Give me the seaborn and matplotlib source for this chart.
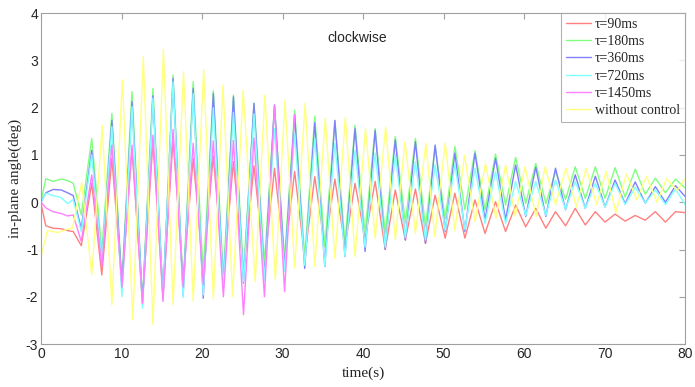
import matplotlib
matplotlib.use("Agg")
import matplotlib.pyplot as plt
import seaborn as sns
import pandas as pd

# extremum times shared by the controlled runs (s)
t_ctrl = [0.0, 0.6, 1.5, 2.5, 3.3, 4.0, 5.0,
          6.3, 7.55, 8.8, 10.05, 11.3, 12.6, 13.9, 15.15, 16.4, 17.65,
          18.9, 20.15, 21.4, 22.65, 23.9, 25.15, 26.45, 27.75, 29.0, 30.25,
          31.5, 32.75, 34.0, 35.25, 36.5, 37.75, 39.0, 40.25, 41.5, 42.75,
          44.0, 45.25, 46.5, 47.75, 48.95, 50.2, 51.4, 52.65, 53.9, 55.15,
          56.45, 57.7, 58.95, 60.2, 61.45, 62.7, 63.9, 65.15, 66.35, 67.6,
          68.85, 70.05, 71.3, 72.55, 73.8, 75.05, 76.3, 77.55, 78.8, 80.0]

tau90 = [-0.03, -0.5, -0.55, -0.56, -0.6, -0.62, -0.92,
         0.4, -1.54, 0.93, -1.72, 1.14, -2.1, 1.28, -1.98, 1.33, -1.61,
         0.93, -1.43, 0.98, -1.53, 0.86, -1.5, 0.77, -1.36, 0.72, -1.2,
         0.65, -1.16, 0.54, -0.94, 0.49, -0.94, 0.4, -0.76, 0.44, -1.0,
         0.26, -0.8, 0.28, -0.87, 0.15, -0.76, 0.19, -0.76, 0.05, -0.66,
         0.01, -0.62, -0.06, -0.52, -0.13, -0.55, -0.2, -0.5, -0.13, -0.48,
         -0.2, -0.42, -0.25, -0.4, -0.28, -0.38, -0.2, -0.42, -0.2, -0.22]

tau180 = [0.02, 0.5, 0.44, 0.49, 0.46, 0.4, -0.27,
          1.35, -1.04, 1.88, -1.68, 2.34, -2.07, 2.41, -1.97, 2.69, -1.78,
          2.55, -1.54, 2.36, -1.55, 2.27, -1.5, 2.1, -1.29, 2.03, -1.2,
          1.95, -1.16, 1.82, -0.94, 1.73, -0.85, 1.63, -0.66, 1.56, -0.66,
          1.39, -0.44, 1.35, -0.52, 1.18, -0.35, 1.18, -0.16, 1.09, -0.16,
          1.02, -0.06, 0.95, -0.03, 0.82, -0.03, 0.65, 0.06, 0.75, 0.08,
          0.75, 0.08, 0.73, 0.11, 0.7, 0.17, 0.51, 0.2, 0.49, 0.3]

tau360 = [0.0, 0.2, 0.27, 0.26, 0.2, 0.14, -0.56,
          1.1, -1.29, 1.73, -1.78, 2.13, -2.14, 2.25, -2.03, 2.62, -1.97,
          2.41, -2.03, 2.3, -1.82, 2.23, -1.71, 2.09, -1.61, 2.06, -1.4,
          1.85, -1.4, 1.68, -1.36, 1.73, -1.15, 1.56, -1.04, 1.52, -1.0,
          1.32, -0.8, 1.28, -0.87, 1.21, -0.62, 1.04, -0.62, 1.04, -0.37,
          0.93, -0.37, 0.79, -0.3, 0.74, -0.3, 0.72, -0.16, 0.58, -0.13,
          0.55, -0.1, 0.47, -0.03, 0.43, -0.02, 0.33, 0.0, 0.35, 0.12]

tau720 = [0.0, 0.19, 0.14, 0.1, -0.03, 0.06, -0.62,
          1.0, -1.22, 1.6, -2.0, 2.02, -2.24, 2.2, -2.06, 2.55, -2.02,
          2.3, -1.96, 2.0, -1.8, 1.9, -1.68, 1.87, -1.65, 1.56, -1.46,
          1.45, -1.33, 1.35, -1.35, 1.25, -1.15, 1.1, -0.95, 1.04, -0.95,
          1.0, -0.75, 0.86, -0.8, 0.8, -0.6, 0.8, -0.58, 0.72, -0.45,
          0.65, -0.45, 0.44, -0.28, 0.44, -0.28, 0.47, -0.15, 0.44, -0.13,
          0.4, -0.1, 0.4, -0.05, 0.32, -0.02, 0.26, -0.05, 0.28, -0.05]

# tau=1450ms is only distinguishable up to ~31 s, then sits on tau=360ms
t_1450 = [0.0, 0.6, 1.5, 2.5, 3.3, 4.0, 5.0,
          6.3, 7.55, 8.8, 10.05, 11.3, 12.6, 13.9, 15.15, 16.4, 17.65,
          18.9, 20.15, 21.4, 22.65, 23.9, 25.15, 26.45, 27.75, 29.0, 30.25, 31.5]
tau1450 = [0.0, -0.12, -0.2, -0.24, -0.29, -0.27, -0.83,
           0.58, -1.36, 1.21, -1.8, 1.21, -2.14, 1.42, -2.1, 1.54, -1.8,
           1.25, -1.75, 1.3, -2.0, 1.31, -2.38, 1.36, -2.0, 2.05, -1.89, 1.85]

t_free = [0.0, 0.8, 2.1, 3.1, 3.9, 5.05,
          6.3, 7.6, 8.8, 10.1, 11.4, 12.7, 13.9, 15.2, 16.4, 17.7, 18.9,
          20.2, 21.4, 22.6, 23.8, 25.1, 26.6, 27.8, 29.1, 30.3, 31.5, 32.8,
          34.0, 35.3, 36.5, 37.8, 39.0, 40.3, 41.5, 42.8, 44.0, 45.2, 46.5,
          47.8, 48.9, 50.2, 51.4, 52.6, 53.9, 55.2, 56.5, 57.7, 58.9, 60.1,
          61.5, 62.6, 63.9, 65.2, 66.5, 67.7, 69.0, 70.2, 71.4, 72.7, 74.0,
          75.2, 76.5, 77.7, 79.0, 80.0]
free = [-1.15, -0.6, -0.64, -0.58, -0.55, 0.42,
        -1.54, 1.63, -2.17, 2.59, -2.49, 3.08, -2.59, 3.23, -2.17, 2.76, -2.1,
        2.81, -2.06, 2.48, -2.0, 2.37, -1.68, 2.27, -1.65, 2.16, -1.39, 2.09,
        -1.36, 1.78, -1.19, 1.8, -1.15, 1.56, -0.76, 1.6, -0.8, 1.28, -0.66,
        1.25, -0.73, 1.25, -0.6, 1.0, -0.41, 0.82, -0.34, 0.79, -0.3, 0.75,
        -0.3, 0.75, -0.05, 0.72, -0.1, 0.72, -0.05, 0.65, -0.22, 0.6, 0.05,
        0.55, 0.0, 0.5, 0.25, 0.5]

labels = ["τ=90ms", "τ=180ms", "τ=360ms", "τ=720ms", "τ=1450ms", "without control"]
colors = ["#ff8080", "#80ff80", "#8080ff", "#80ffff", "#ff80ff", "#ffff80"]

frames = []
for lab, t, v in zip(labels,
                     [t_ctrl, t_ctrl, t_ctrl, t_ctrl, t_1450, t_free],
                     [tau90, tau180, tau360, tau720, tau1450, free]):
    frames.append(pd.DataFrame({"time": t, "angle": v, "run": lab}))
df = pd.concat(frames, ignore_index=True)

sns.set_style("white")
plt.rcParams["axes.unicode_minus"] = False
fig = plt.figure(figsize=(6.95, 3.87), dpi=100)
ax = fig.add_axes([0.059, 0.111, 0.9268, 0.855])

sns.lineplot(data=df, x="time", y="angle", hue="run", hue_order=labels,
             palette=dict(zip(labels, colors)), estimator=None, sort=False,
             linewidth=1.0, ax=ax)

ax.set_xlim(0, 80)
ax.set_ylim(-3, 4)
ax.set_xticks(range(0, 81, 10))
ax.set_yticks(range(-3, 5))
ax.tick_params(direction="in", top=True, right=True, length=4,
               color="#a0a0a0", labelsize=10, labelcolor="#262626", pad=2)
for s in ax.spines.values():
    s.set_color("#a0a0a0")
    s.set_linewidth(0.8)
for lab in ax.get_xticklabels() + ax.get_yticklabels():
    lab.set_family("Liberation Sans")

ax.set_xlabel("time(s)", family="Liberation Serif", fontsize=11, labelpad=4)
ax.set_ylabel("in-plane angle(deg)", family="Liberation Serif", fontsize=11, labelpad=3)
ax.text(39.3, 3.47, "clockwise", family="Liberation Sans", fontsize=10,
        ha="center", va="center", color="#262626")

leg = ax.legend(loc="upper right", borderaxespad=0, frameon=True, fancybox=False,
                prop={"family": "Liberation Serif", "size": 10},
                handlelength=1.8, handletextpad=0.3, labelspacing=0.3,
                borderpad=0.35)
leg.get_frame().set_edgecolor("#a0a0a0")
leg.get_frame().set_linewidth(0.8)

fig.savefig("out.png", dpi=100)
